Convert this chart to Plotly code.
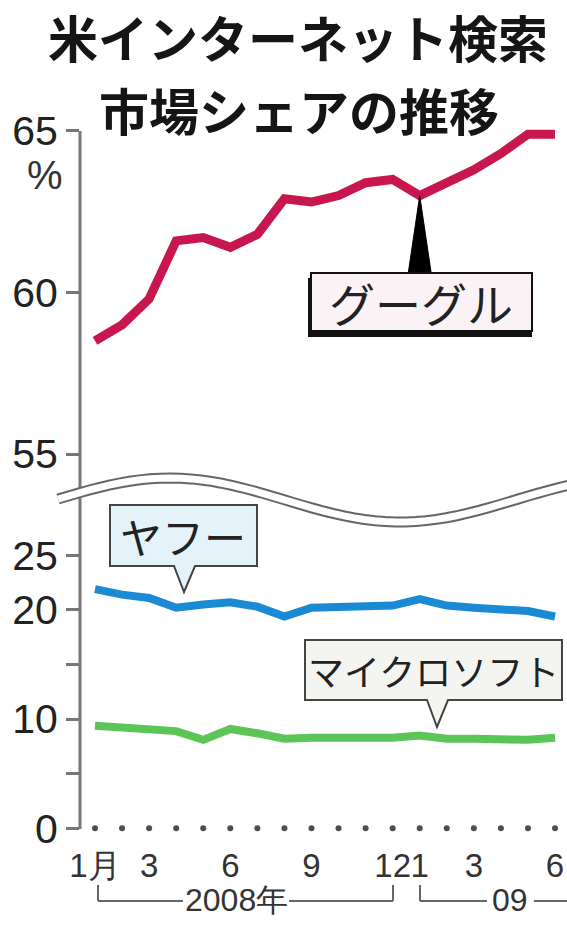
import math
import plotly.graph_objects as go

# ---------------- data ----------------
months = ["2008-01", "2008-02", "2008-03", "2008-04", "2008-05", "2008-06",
          "2008-07", "2008-08", "2008-09", "2008-10", "2008-11", "2008-12",
          "2009-01", "2009-02", "2009-03", "2009-04", "2009-05", "2009-06"]
google = [58.5, 59.0, 59.8, 61.6, 61.7, 61.4, 61.8, 62.9, 62.8, 63.0, 63.4, 63.5,
          63.0, 63.4, 63.8, 64.3, 64.9, 64.9]
yahoo = [21.9, 21.4, 21.1, 20.2, 20.5, 20.7, 20.3, 19.4, 20.2, 20.3, 20.3, 20.4,
         21.0, 20.4, 20.2, 20.1, 19.9, 19.4]
microsoft = [9.4, 9.2, 9.1, 8.9, 8.1, 9.1, 8.7, 8.2, 8.3, 8.3, 8.2, 8.3,
             8.5, 8.2, 8.2, 8.1, 8.1, 8.3]
baseline = [0 for _ in months]

tick_index = [0, 2, 5, 8, 11, 12, 14, 17]
tick_text = ["1月", "3", "6", "9", "12", "1", "3", "6"]
upper_ticks = [55, 60, 65]
lower_ticks = [0, 5, 10, 15, 20, 25]
lower_ticktext = ["0", "", "10", "", "20", "25"]

title_lines = ["米インターネット検索", "市場シェアの推移"]
name_google = "グーグル"
name_yahoo = "ヤフー"
name_ms = "マイクロソフト"
year_labels = ["2008年", "09"]

# ---------------- layout geometry (pixels) ----------------
W, H = 567, 929
AX_X = 80
X0_PX, XSTEP = 95, 27.06


def px(x):
    return x / W


def py(y):
    return 1 - y / H


x = list(range(len(months)))
x_range = [(AX_X - X0_PX) / XSTEP, (W - X0_PX) / XSTEP]

up_range = [55, 65.6]
up_dom = [py(454), py(111.6)]
lo_range = [-1, 27]
lo_dom = [py(839.2), py(533.5)]

NUM_FONT = "Liberation Sans, Arial, sans-serif"
JP_FONT = "Noto Sans CJK JP, sans-serif"

fig = go.Figure()

fig.add_trace(go.Scatter(x=x, y=google, mode="lines", yaxis="y2",
                         line=dict(color="#C8174E", width=9), hoverinfo="skip"))
fig.add_trace(go.Scatter(x=x, y=yahoo, mode="lines", yaxis="y",
                         line=dict(color="#1A8AD4", width=8), hoverinfo="skip"))
fig.add_trace(go.Scatter(x=x, y=microsoft, mode="lines", yaxis="y",
                         line=dict(color="#5BC657", width=8), hoverinfo="skip"))
fig.add_trace(go.Scatter(x=x, y=baseline, mode="markers", yaxis="y",
                         marker=dict(color="#4a4f55", size=6), cliponaxis=False,
                         hoverinfo="skip"))

shapes = []
# y axis line
shapes.append(dict(type="line", xref="paper", yref="paper",
                   x0=px(AX_X), x1=px(AX_X), y0=py(131), y1=py(829),
                   line=dict(color="#777", width=3)))

# break wave: gray thick + white thin
pts = []
for i in range(0, 51):
    xx = 58 + (W + 2 - 58) * i / 50
    yy = 498 - 22 * math.cos(math.pi * (xx - 170) / 230)
    pts.append((xx, yy + 2))
path = "M " + " L ".join(f"{px(a):.5f},{py(b):.5f}" for a, b in pts)
shapes.append(dict(type="path", xref="paper", yref="paper", path=path,
                   line=dict(color="#666", width=11)))
shapes.append(dict(type="path", xref="paper", yref="paper", path=path,
                   line=dict(color="white", width=7)))

# Google box with shadow and black wedge pointer
gi = 12
shapes.append(dict(type="path", xref="x", yref="y2",
                   path=f"M {x[gi]-0.42},60.62 L {x[gi]},{google[gi]} L {x[gi]+0.42},60.62 Z",
                   fillcolor="black", line=dict(color="black", width=1)))
shapes.append(dict(type="rect", xref="paper", yref="paper",
                   x0=px(308), x1=px(532), y0=py(337), y1=py(278),
                   fillcolor="#111", line=dict(width=0)))
shapes.append(dict(type="rect", xref="paper", yref="paper",
                   x0=px(311), x1=px(532), y0=py(331), y1=py(273),
                   fillcolor="#FBF2F5", line=dict(color="#111", width=2)))


def bubble(x0, x1, y0, y1, bx0, bx1, tipx, tipy):
    p = [(x0, y0), (x1, y0), (x1, y1), (bx1, y1), (tipx, tipy), (bx0, y1), (x0, y1)]
    return "M " + " L ".join(f"{px(a):.5f},{py(b):.5f}" for a, b in p) + " Z"


shapes.append(dict(type="path", xref="paper", yref="paper",
                   path=bubble(110, 257, 505, 566, 174, 195, 184, 592),
                   fillcolor="#E4F2FA", line=dict(color="#444", width=2)))
shapes.append(dict(type="path", xref="paper", yref="paper",
                   path=bubble(305, 562, 640, 700, 427, 448, 437, 727),
                   fillcolor="#F4F5F1", line=dict(color="#444", width=2)))

# year brackets
br = dict(color="#666", width=2)
for (a, b, c, d) in [(98, 885, 98, 901), (98, 901, 183, 901), (289, 901, 393, 901),
                     (393, 885, 393, 901), (420, 885, 420, 901), (420, 901, 487, 901),
                     (534, 901, 567, 901)]:
    shapes.append(dict(type="line", xref="paper", yref="paper",
                       x0=px(a), y0=py(b), x1=px(c), y1=py(d), line=br))

annotations = [
    dict(text=f"<b>{title_lines[0]}</b>", x=px(298), y=py(36),
         font=dict(family=JP_FONT, size=50, color="#151515")),
    dict(text=f"<b>{title_lines[1]}</b>", x=px(299), y=py(109),
         font=dict(family=JP_FONT, size=50, color="#151515")),
    dict(text="%", x=px(45), y=py(175),
         font=dict(family=NUM_FONT, size=40, color="#333")),
    dict(text=name_google, x=px(421), y=py(302),
         font=dict(family=JP_FONT, size=46, color="#222")),
    dict(text=name_yahoo, x=px(183), y=py(535),
         font=dict(family=JP_FONT, size=42, color="#222")),
    dict(text=name_ms, x=px(433), y=py(670),
         font=dict(family=JP_FONT, size=36, color="#222")),
    dict(text=year_labels[0], x=px(236), y=py(900),
         font=dict(family=NUM_FONT, size=32, color="#333")),
    dict(text=year_labels[1], x=px(510), y=py(900),
         font=dict(family=NUM_FONT, size=32, color="#333")),
]
for a in annotations:
    a.update(xref="paper", yref="paper", showarrow=False,
             xanchor="center", yanchor="middle")

fig.update_layout(
    width=W, height=H,
    margin=dict(l=0, r=0, t=0, b=0),
    paper_bgcolor="white", plot_bgcolor="rgba(0,0,0,0)",
    showlegend=False,
    template="none",
    xaxis=dict(domain=[px(AX_X), 1], range=x_range, anchor="y",
               showgrid=False, zeroline=False, showline=False, ticks="",
               tickmode="array", tickvals=[x[i] for i in tick_index], ticktext=tick_text,
               tickangle=0,
               tickfont=dict(family=NUM_FONT, size=33, color="#333"),
               ticklabelstandoff=4, automargin=False),
    yaxis=dict(domain=lo_dom, range=lo_range, anchor="x",
               showgrid=False, zeroline=False, showline=False,
               ticks="outside", ticklen=13, tickwidth=2.5, tickcolor="#777",
               tickmode="array", tickvals=lower_ticks, ticktext=lower_ticktext,
               tickfont=dict(family=NUM_FONT, size=41, color="#222"),
               automargin=False),
    yaxis2=dict(domain=up_dom, range=up_range, anchor="x",
                showgrid=False, zeroline=False, showline=False,
                ticks="outside", ticklen=13, tickwidth=2.5, tickcolor="#777",
                tickmode="array", tickvals=upper_ticks,
                tickfont=dict(family=NUM_FONT, size=41, color="#222"),
                automargin=False),
    shapes=shapes,
    annotations=annotations,
)

fig.write_html("out.html",
               config={"displayModeBar": False},
               post_script="document.body.style.margin='0';document.body.style.overflow='hidden';")
